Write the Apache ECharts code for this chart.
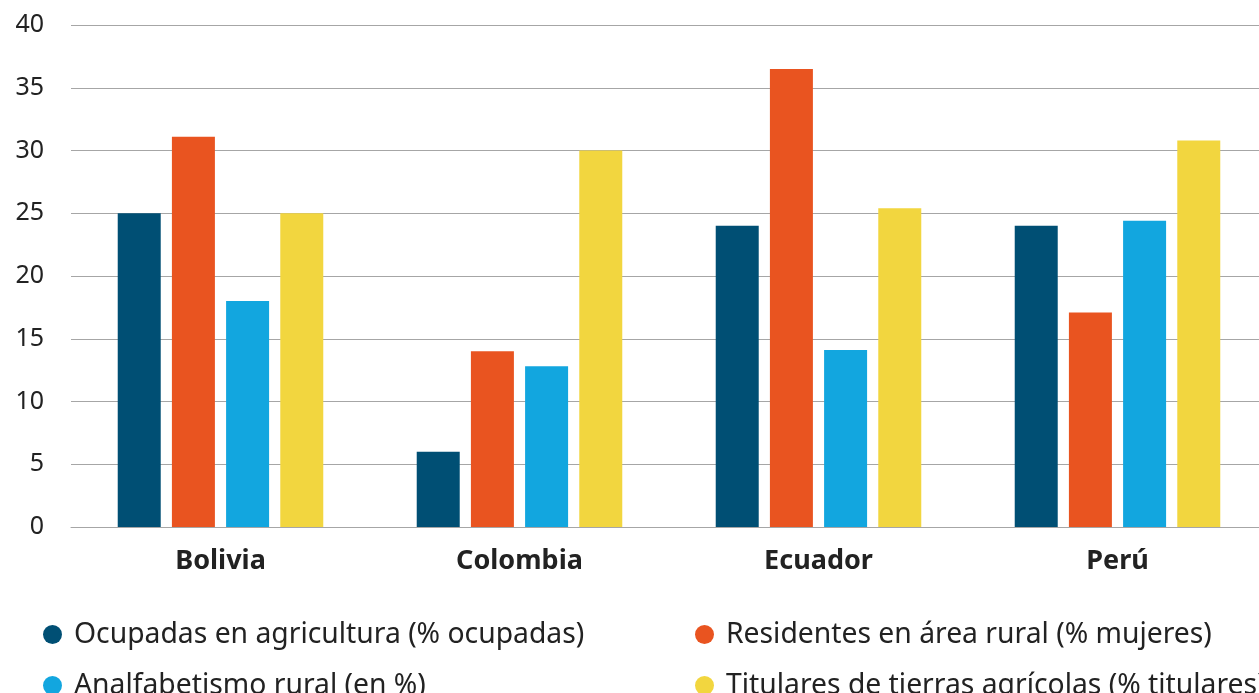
<!DOCTYPE html>
<html><head><meta charset="utf-8">
<script src="https://cdn.jsdelivr.net/npm/echarts@6/dist/echarts.min.js"></script>
<style>html,body{margin:0;padding:0;background:#fff;overflow:hidden;width:1259px;height:693px}#c{width:1267px;height:693px}</style>
</head><body><div id="c"></div>
<script>
const categories = ['Bolivia', 'Colombia', 'Ecuador', 'Perú'];
const seriesNames = ['Ocupadas en agricultura (% ocupadas)', 'Residentes en área rural (% mujeres)', 'Analfabetismo rural (en %)', 'Titulares de tierras agrícolas (% titulares)'];
const ocupadas = [25, 6, 24, 24];
const residentes = [31.1, 14, 36.5, 17.1];
const analfabetismo = [18, 12.8, 14.1, 24.4];
const titulares = [25, 30, 25.4, 30.8];
const colors = ['#004f74', '#e95420', '#12a6df', '#f2d63f'];
const values = [ocupadas, residentes, analfabetismo, titulares];
const FONT = 'Noto Sans';
const chart = echarts.init(document.getElementById('c'));
function legendAt(left, names) {
  return {
    left: left, top: 614, height: 200, orient: 'vertical', icon: 'circle',
    itemWidth: 19, itemHeight: 19, itemGap: 20, data: names, selectedMode: false,
    textStyle: { fontFamily: FONT, fontSize: 28.3, color: '#222', padding: [0, 0, 0, 7], lineHeight: 31 }
  };
}
chart.setOption({
  animation: false,
  color: colors,
  grid: { left: 71, right: 0, top: 25, bottom: 166, containLabel: false },
  legend: [
    legendAt(38, [seriesNames[0], seriesNames[2]]),
    legendAt(690, [seriesNames[1], seriesNames[3]])
  ],
  xAxis: {
    type: 'category', data: categories,
    axisLine: { lineStyle: { color: '#a6a6a6', width: 1 } },
    axisTick: { show: false },
    axisLabel: { fontFamily: FONT, fontSize: 27, fontWeight: 'bold', color: '#222', margin: 21 }
  },
  yAxis: {
    type: 'value', min: 0, max: 40, interval: 5,
    axisLine: { show: false }, axisTick: { show: false },
    splitLine: { lineStyle: { color: '#a6a6a6', width: 1 } },
    axisLabel: { fontFamily: FONT, fontSize: 25, color: '#222', margin: 27 }
  },
  series: values.map((v, i) => ({
    name: seriesNames[i], type: 'bar', data: v, barWidth: 43, barGap: '26%',
    itemStyle: { color: colors[i] }
  }))
});
</script></body></html>
